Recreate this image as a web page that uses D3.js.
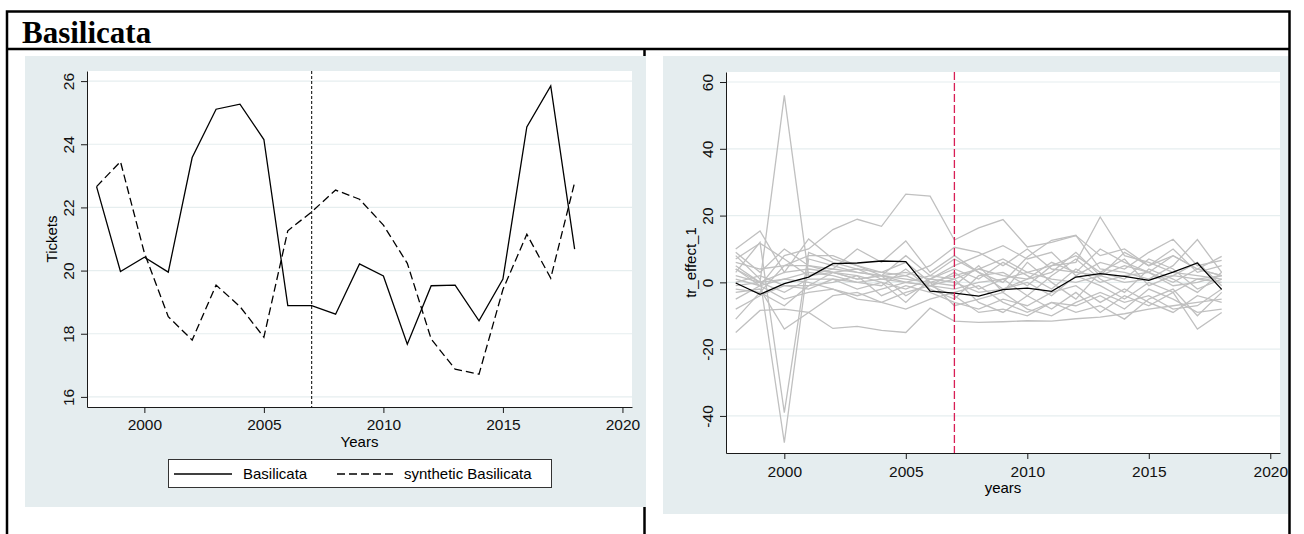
<!DOCTYPE html>
<html>
<head>
<meta charset="utf-8">
<script src="https://cdn.jsdelivr.net/npm/d3@7"></script>
<style>
  body { margin: 0; background: #fff; }
  svg { display: block; font-family: 'Liberation Sans', Arial, sans-serif; }
</style>
</head>
<body>
<svg id="chart" width="1304" height="534"></svg>
<script>
const years = [1998, 1999, 2000, 2001, 2002, 2003, 2004, 2005, 2006, 2007, 2008,
  2009, 2010, 2011, 2012, 2013, 2014, 2015, 2016, 2017, 2018]
const xTicks = [2000, 2005, 2010, 2015, 2020]
const ticketTicks = [16, 18, 20, 22, 24, 26]
const effectTicks = [-40, -20, 0, 20, 40, 60]
const treatYear = 2007

// left panel: observed vs synthetic
const basilicata = [22.66, 19.97, 20.42, 19.95, 23.58, 25.11, 25.27, 24.15, 18.89, 18.89, 18.62,
  20.21, 19.83, 17.67, 19.52, 19.54, 18.41, 19.73, 24.55, 25.85, 20.68]
const synthetic = [22.66, 23.45, 20.56, 18.54, 17.8, 19.54, 18.86, 17.89, 21.26, 21.86, 22.55,
  22.26, 21.44, 20.23, 17.83, 16.88, 16.72, 19.4, 21.15, 19.76, 22.79]

// right panel: treatment effect + placebo regions
const trEffect = [-0.2, -3.6, -0.4, 1.6, 5.6, 5.8, 6.4, 6.2, -2.6, -3.2, -4.1,
  -2.2, -1.7, -2.7, 1.6, 2.6, 1.8, 0.6, 3.1, 5.8, -2.1]
const placebos = [
  [5, 0, 56, 2, 3, 4, 1, 0, 2, 1, 4, 2, 1, 6, 3, 2, 5, 3, 0, 4, 2],
  [8, 1, -48, 7, 5, 3, 2, 0, -1, 3, -2, 1, -4, 2, 7, 1, -3, 4, 1, -3, 3],
  [3, 12, -39, 9, 6, 4, 3, 6, 0, -1, 5, -3, 6, 0, -5, 3, 7, -1, 2, 6, -1],
  [4, -1, 8, 10, 15.8, 18.9, 16.8, 26.4, 25.8, 12.7, 16.3, 18.8, 10.6, 12, 14, 8, 10, 5, 8, 4, 7.8],
  [-15, -8.4, -8, -9, -13.8, -13.2, -14.4, -15, -7.7, -11.6, -12, -11.8, -11.5, -11.6, -10.9, -10.4, -9.4, -8, -7, -6, -5],
  [10, 15.4, 3, 13, 7, 5, 2, 1, 0, 2, 4, 7, 3, 5, 6, 19.6, 8, 6, 3, 2, 1],
  [9, 3, 10, 5, 3, 2, 0, -2, 1, 5, 8, 11, 7, 9, 2, 6, 4, 9, 12.9, 5, 6.6],
  [7, 11.7, 7, 2, 4, 10, 6, 12.4, 3, 8, 3, 0, 7.6, 12.6, 14.1, 4, 3, 1, 5, 12.8, 3],
  [6, 4, 5, 8, 8, 5, 3, 2, 5, 10.5, 9, 5, 10, 4, 3, 10, 6, 3, 8, 4, 2],
  [2, 0, 1, 3, 2, 0, -1, 4, -2, -5, 2, 3, -1, 5, 8, 3, 1, 7, 4, -2, 1],
  [-1, 0, -3, 1, 1, -2, 0, -6, 1, 0, -3, -2, 0, -4, 2, -1, -5, 0, -3, 1, 0],
  [-2, -3, -7, -1, 0, 2, -4, -1, -3, -6, -8, -5, -7, -3, -1, -6, -2, -6, -9, -4, -6],
  [-3, -2, -14, -9, -4, -3, -6, -8, -5, -3, -1, -6, -9, -6, -7, -4, -8, -2, -5, -9, -8],
  [-5, -1, -5, -3, -2, -4, -2, 0, -1, 1, -6, -9, -4, -8, -3, -9, -4, -7, -3, -14, -9],
  [-8, -4, -1, -1, 3, 1, 2, -4, 0, -7, -5, -3, -8, -10, -6, -3, -6, -4, -8, -7, -2],
  [1, -1, 1, 0, -2, -5, -6, -3, -1, -4, -9, -8, -10, -6, -9, -7, -11, -5, -2, -10, -3],
  [-11, -3, 5, 5, 4, 3, 2, 3, 1, 4, 1, 6, 2, -2, 4, 0, 2, 3, -1, 0, 2],
  [0, 2, -1, -2, 1, 0, 1, 2, -1, -2, 0, 1, 3, 1, 0, 2, 0, 1, 2, 1, 2],
  [4, 0, 3, 4, 3, 1, 2, 8, 2, 7, 3, -2, 1, 3, 9, 2, 9, 5, 10, 3, 5]
]

const bgColor = '#e5edef'
const gridColor = '#e6eeef'
const svg = d3.select('#chart')

// table frame around the two graphs
const frame = svg.append('g')
  .attr('fill', 'none').attr('stroke', '#000').attr('stroke-width', 2.5)
frame.append('path').attr('d', 'M7,534V11.5H1289.5V534')
frame.append('path').attr('d', 'M7,49H1289.5')
frame.append('path').attr('d', 'M644.5,49V534')

svg.append('text')
  .attr('x', 22).attr('y', 43)
  .style('font-family', "'Liberation Serif', 'Times New Roman', serif")
  .style('font-weight', 'bold').style('font-size', '31px')
  .text('Basilicata')

function panel(opt) {
  const { bg, px, py, xDom, yDom, yTicks, yLabel, xLabel, xLabelY, tickLabelDy } = opt
  const g = svg.append('g')
  g.append('rect')
    .attr('x', bg[0]).attr('y', bg[1]).attr('width', bg[2]).attr('height', bg[3])
    .attr('fill', bgColor)
  g.append('rect')
    .attr('x', px[0]).attr('y', py[0]).attr('width', px[1] - px[0]).attr('height', py[1] - py[0])
    .attr('fill', '#fff')

  const x = d3.scaleLinear().domain(xDom).range(px)
  const y = d3.scaleLinear().domain(yDom).range([py[1], py[0]])

  g.append('g').selectAll('line').data(yTicks).join('line')
    .attr('x1', px[0]).attr('x2', px[1])
    .attr('y1', d => y(d)).attr('y2', d => y(d))
    .attr('stroke', gridColor).attr('stroke-width', 1.2)

  // stata style: plain hyphen for negatives, labels turned on their side
  const yAxis = g.append('g').attr('transform', `translate(${px[0]},0)`)
    .call(d3.axisLeft(y).tickValues(yTicks).tickFormat(d => String(d)).tickSize(6).tickSizeOuter(0))
  yAxis.selectAll('text')
    .attr('x', null).attr('dy', null)
    .attr('text-anchor', 'middle')
    .attr('transform', 'translate(-13,0) rotate(-90)')

  const xAxis = g.append('g').attr('transform', `translate(0,${py[1]})`)
    .call(d3.axisBottom(x).tickValues(xTicks).tickFormat(d => String(d)).tickSize(6).tickSizeOuter(0))
  xAxis.selectAll('text').attr('y', tickLabelDy).attr('dy', null)

  g.selectAll('.domain, .tick line').attr('stroke', '#1a1a1a')
  g.selectAll('.tick text').attr('fill', '#111').style('font-size', '15.5px')

  g.append('text')
    .attr('transform', `translate(${yLabel.x},${(py[0] + py[1]) / 2}) rotate(-90)`)
    .attr('text-anchor', 'middle').style('font-size', '15px')
    .text(yLabel.text)
  g.append('text')
    .attr('x', (px[0] + px[1]) / 2).attr('y', xLabelY)
    .attr('text-anchor', 'middle').style('font-size', '15px')
    .text(xLabel)

  return { g, x, y }
}

// ---- left: Tickets
const left = panel({
  bg: [25, 56, 621, 451],
  px: [87, 632], py: [71, 407],
  xDom: [1997.6, 2020.4], yDom: [15.68, 26.32],
  yTicks: ticketTicks,
  yLabel: { x: 57, text: 'Tickets' },
  xLabel: 'Years', xLabelY: 447, tickLabelDy: 23
})
const lineL = d3.line().x((d, i) => left.x(years[i])).y(d => left.y(d))

left.g.append('line')
  .attr('x1', left.x(treatYear)).attr('x2', left.x(treatYear))
  .attr('y1', 71).attr('y2', 407)
  .attr('stroke', '#000').attr('stroke-width', 1).attr('stroke-dasharray', '3,2')

left.g.append('path').datum(basilicata).attr('d', lineL)
  .attr('fill', 'none').attr('stroke', '#000').attr('stroke-width', 1.3)
left.g.append('path').datum(synthetic).attr('d', lineL)
  .attr('fill', 'none').attr('stroke', '#000').attr('stroke-width', 1.3)
  .attr('stroke-dasharray', '8,4')

const legend = left.g.append('g')
legend.append('rect')
  .attr('x', 168.5).attr('y', 459.5).attr('width', 383).attr('height', 28)
  .attr('fill', '#fff').attr('stroke', '#333').attr('stroke-width', 1)
legend.append('line').attr('x1', 174).attr('x2', 232).attr('y1', 474).attr('y2', 474)
  .attr('stroke', '#000').attr('stroke-width', 1.3)
legend.append('text').attr('x', 243).attr('y', 479).style('font-size', '15px').text('Basilicata')
legend.append('line').attr('x1', 337).attr('x2', 397).attr('y1', 474).attr('y2', 474)
  .attr('stroke', '#000').attr('stroke-width', 1.3).attr('stroke-dasharray', '8,4')
legend.append('text').attr('x', 404).attr('y', 479).style('font-size', '15px').text('synthetic Basilicata')

// ---- right: tr_effect_1
const right = panel({
  bg: [663, 56, 625, 458],
  px: [726, 1280], py: [72, 453],
  xDom: [1997.6, 2020.4], yDom: [-51.1, 63],
  yTicks: effectTicks,
  yLabel: { x: 696, text: 'tr_effect_1' },
  xLabel: 'years', xLabelY: 493, tickLabelDy: 24
})
const lineR = d3.line().x((d, i) => right.x(years[i])).y(d => right.y(d))

right.g.append('g').selectAll('path').data(placebos).join('path')
  .attr('d', lineR)
  .attr('fill', 'none').attr('stroke', '#c0c0c0').attr('stroke-width', 1.3)
right.g.append('path').datum(trEffect).attr('d', lineR)
  .attr('fill', 'none').attr('stroke', '#000').attr('stroke-width', 1.3)

right.g.append('line')
  .attr('x1', right.x(treatYear)).attr('x2', right.x(treatYear))
  .attr('y1', 72).attr('y2', 453)
  .attr('stroke', '#d81e55').attr('stroke-width', 1.3).attr('stroke-dasharray', '8,3')
</script>
</body>
</html>
